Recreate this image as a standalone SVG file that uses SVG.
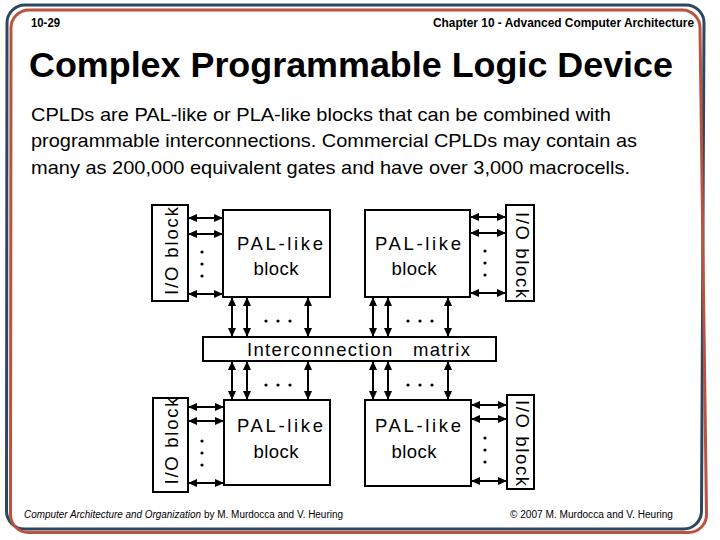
<svg xmlns="http://www.w3.org/2000/svg" width="720" height="540" viewBox="0 0 720 540">
<style>
.box{fill:#fff;stroke:#000;stroke-width:2}
.lbl{font-family:"Liberation Sans",Arial,sans-serif;font-size:18.5px;fill:#000;white-space:pre}
.conn{stroke:#000;stroke-width:2;fill:none;marker-start:url(#ah);marker-end:url(#ah)}
.dot{fill:#000}
.frame{fill:none;stroke-width:3}
</style>
<defs>
<marker id="ah" viewBox="0 0 9 8" refX="9" refY="4" markerWidth="9" markerHeight="8" markerUnits="userSpaceOnUse" orient="auto-start-reverse">
<path d="M0,0 L9,4 L0,8 z" fill="#000"/>
</marker>
</defs>
<rect width="720" height="540" fill="#fff"/>
<g id="frame">
<path class="frame" stroke="#2e4760" d="M7,23 A18,18 0 0 1 25,5 L686,5 A18,18 0 0 1 704,23 L701.5,511 A18,18 0 0 1 683.5,529 L24.5,529 A18,18 0 0 1 6.5,511 Z"/>
<path class="frame" stroke="#b9523f" d="M11,28 A18,18 0 0 1 29,10 L682,10 A18,18 0 0 1 700,28 L706.5,514.5 A18,18 0 0 1 688.5,532.5 L28.5,532.5 A18,18 0 0 1 10.5,514.5 Z"/>
</g>
<g id="header" font-family="'Liberation Sans',Arial,sans-serif" font-weight="bold" font-size="12">
<text x="31" y="27" textLength="29" lengthAdjust="spacingAndGlyphs">10-29</text>
<text x="433" y="27" textLength="261" lengthAdjust="spacingAndGlyphs">Chapter 10 - Advanced Computer Architecture</text>
</g>
<text id="title" x="29" y="77" font-family="'Liberation Sans',Arial,sans-serif" font-weight="bold" font-size="35" textLength="644" lengthAdjust="spacingAndGlyphs">Complex Programmable Logic Device</text>
<g id="body" font-family="'Liberation Sans',Arial,sans-serif" font-size="19">
<text x="31" y="121" textLength="580" lengthAdjust="spacingAndGlyphs">CPLDs are PAL-like or PLA-like blocks that can be combined with</text>
<text x="31" y="147" textLength="606" lengthAdjust="spacingAndGlyphs">programmable interconnections. Commercial CPLDs may contain as</text>
<text x="31" y="174" textLength="599" lengthAdjust="spacingAndGlyphs">many as 200,000 equivalent gates and have over 3,000 macrocells.</text>
</g>
<g id="connectors">
<line class="conn" x1="188" y1="218" x2="223" y2="218"/>
<line class="conn" x1="188" y1="234" x2="223" y2="234"/>
<line class="conn" x1="188" y1="294" x2="223" y2="294"/>
<line class="conn" x1="470" y1="217" x2="506" y2="217"/>
<line class="conn" x1="470" y1="233" x2="506" y2="233"/>
<line class="conn" x1="470" y1="293" x2="506" y2="293"/>
<line class="conn" x1="188" y1="407" x2="224" y2="407"/>
<line class="conn" x1="188" y1="421" x2="224" y2="421"/>
<line class="conn" x1="188" y1="483" x2="224" y2="483"/>
<line class="conn" x1="471" y1="405" x2="507" y2="405"/>
<line class="conn" x1="471" y1="419" x2="507" y2="419"/>
<line class="conn" x1="471" y1="481" x2="507" y2="481"/>
<line class="conn" x1="232" y1="297" x2="232" y2="337"/>
<line class="conn" x1="247" y1="297" x2="247" y2="337"/>
<line class="conn" x1="308" y1="297" x2="308" y2="337"/>
<line class="conn" x1="373" y1="297" x2="373" y2="337"/>
<line class="conn" x1="388" y1="297" x2="388" y2="337"/>
<line class="conn" x1="448" y1="297" x2="448" y2="337"/>
<line class="conn" x1="232" y1="361" x2="232" y2="400"/>
<line class="conn" x1="247" y1="361" x2="247" y2="400"/>
<line class="conn" x1="308" y1="361" x2="308" y2="400"/>
<line class="conn" x1="373" y1="361" x2="373" y2="400"/>
<line class="conn" x1="388" y1="361" x2="388" y2="400"/>
<line class="conn" x1="448" y1="361" x2="448" y2="400"/>
<g id="dots">
<circle class="dot" cx="202" cy="252" r="1.6"/><circle class="dot" cx="202" cy="264" r="1.6"/><circle class="dot" cx="202" cy="276" r="1.6"/>
<circle class="dot" cx="485" cy="251" r="1.6"/><circle class="dot" cx="485" cy="263" r="1.6"/><circle class="dot" cx="485" cy="275" r="1.6"/>
<circle class="dot" cx="202" cy="441" r="1.6"/><circle class="dot" cx="202" cy="453" r="1.6"/><circle class="dot" cx="202" cy="465" r="1.6"/>
<circle class="dot" cx="485" cy="438" r="1.6"/><circle class="dot" cx="485" cy="450" r="1.6"/><circle class="dot" cx="485" cy="462" r="1.6"/>
<circle class="dot" cx="266" cy="321" r="1.6"/><circle class="dot" cx="278" cy="321" r="1.6"/><circle class="dot" cx="290" cy="321" r="1.6"/>
<circle class="dot" cx="408" cy="321" r="1.6"/><circle class="dot" cx="420" cy="321" r="1.6"/><circle class="dot" cx="432" cy="321" r="1.6"/>
<circle class="dot" cx="266" cy="385" r="1.6"/><circle class="dot" cx="278" cy="385" r="1.6"/><circle class="dot" cx="290" cy="385" r="1.6"/>
<circle class="dot" cx="408" cy="385" r="1.6"/><circle class="dot" cx="420" cy="385" r="1.6"/><circle class="dot" cx="432" cy="385" r="1.6"/>
</g>
</g>
<g id="io_tl">
<rect class="box" x="152" y="205" width="36" height="96"/>
<text class="lbl" transform="translate(178,251) rotate(-90)" x="0" y="0" text-anchor="middle" textLength="88" lengthAdjust="spacing">I/O block</text>
</g>
<g id="pal_tl">
<rect class="box" x="223" y="210" width="107" height="87"/>
<text class="lbl" x="280" y="250" text-anchor="middle" textLength="86" lengthAdjust="spacing">PAL-like</text>
<text class="lbl" x="276" y="275" text-anchor="middle" textLength="45" lengthAdjust="spacing">block</text>
</g>
<g id="pal_tr">
<rect class="box" x="365" y="210" width="105" height="87"/>
<text class="lbl" x="418" y="250" text-anchor="middle" textLength="86" lengthAdjust="spacing">PAL-like</text>
<text class="lbl" x="414" y="275" text-anchor="middle" textLength="45" lengthAdjust="spacing">block</text>
</g>
<g id="io_tr">
<rect class="box" x="506" y="205" width="28" height="96"/>
<text class="lbl" transform="translate(516,255) rotate(90)" x="0" y="0" text-anchor="middle" textLength="86" lengthAdjust="spacing">I/O block</text>
</g>
<g id="matrix">
<rect class="box" x="203" y="337" width="293" height="24"/>
<text class="lbl" x="247" y="356" textLength="223" lengthAdjust="spacing">Interconnection   matrix</text>
</g>
<g id="io_bl">
<rect class="box" x="153" y="398" width="35" height="94"/>
<text class="lbl" transform="translate(178,441) rotate(-90)" x="0" y="0" text-anchor="middle" textLength="87" lengthAdjust="spacing">I/O block</text>
</g>
<g id="pal_bl">
<rect class="box" x="224" y="400" width="106" height="85"/>
<text class="lbl" x="280" y="432" text-anchor="middle" textLength="86" lengthAdjust="spacing">PAL-like</text>
<text class="lbl" x="276" y="458" text-anchor="middle" textLength="45" lengthAdjust="spacing">block</text>
</g>
<g id="pal_br">
<rect class="box" x="365" y="400" width="106" height="86"/>
<text class="lbl" x="418" y="432" text-anchor="middle" textLength="86" lengthAdjust="spacing">PAL-like</text>
<text class="lbl" x="414" y="458" text-anchor="middle" textLength="45" lengthAdjust="spacing">block</text>
</g>
<g id="io_br">
<rect class="box" x="507" y="395" width="27" height="94"/>
<text class="lbl" transform="translate(516,443) rotate(90)" x="0" y="0" text-anchor="middle" textLength="86" lengthAdjust="spacing">I/O block</text>
</g>
<g id="footer" font-family="'Liberation Sans',Arial,sans-serif" font-size="10">
<text x="24" y="518" font-style="italic" textLength="177" lengthAdjust="spacingAndGlyphs">Computer Architecture and Organization</text>
<text x="204" y="518" textLength="139" lengthAdjust="spacingAndGlyphs">by M. Murdocca and V. Heuring</text>
<text x="510" y="518" textLength="163" lengthAdjust="spacingAndGlyphs">© 2007 M. Murdocca and V. Heuring</text>
</g>
</svg>
